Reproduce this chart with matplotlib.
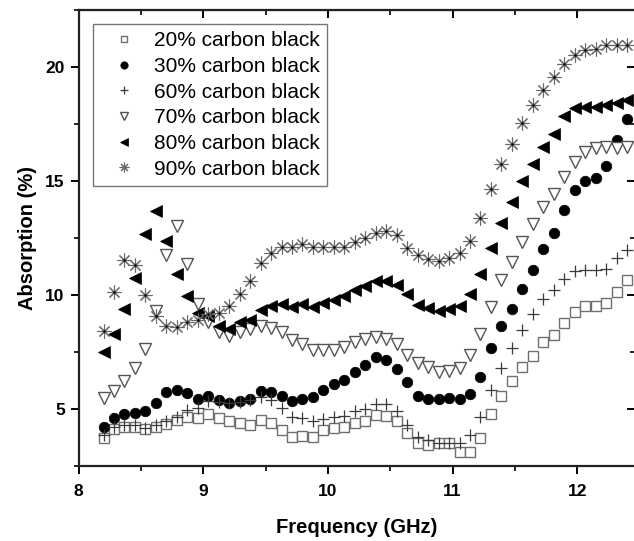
import matplotlib
matplotlib.use("Agg")
import matplotlib.pyplot as plt
from matplotlib.ticker import MultipleLocator

plt.rcParams['font.family'] = ['Liberation Sans', 'DejaVu Sans']

freq = [8.200, 8.284, 8.368, 8.452, 8.536, 8.620, 8.704, 8.788, 8.872, 8.956,
        9.040, 9.124, 9.208, 9.292, 9.376, 9.460, 9.544, 9.628, 9.712, 9.796,
        9.880, 9.964, 10.048, 10.132, 10.216, 10.300, 10.384, 10.468, 10.552, 10.636,
        10.720, 10.804, 10.888, 10.972, 11.056, 11.140, 11.224, 11.308, 11.392, 11.476,
        11.560, 11.644, 11.728, 11.812, 11.896, 11.980, 12.064, 12.148, 12.232, 12.316,
        12.400]

cb20 = [3.73, 4.12, 4.22, 4.22, 4.12, 4.22, 4.34, 4.53, 4.63, 4.58,
        4.78, 4.60, 4.45, 4.37, 4.31, 4.51, 4.37, 4.08, 3.75, 3.79,
        3.78, 4.05, 4.16, 4.19, 4.37, 4.48, 4.73, 4.70, 4.45, 3.95,
        3.48, 3.43, 3.50, 3.50, 3.12, 3.10, 3.73, 4.78, 5.55, 6.20,
        6.82, 7.33, 7.95, 8.25, 8.76, 9.25, 9.49, 9.52, 9.66, 10.14,
        10.65]

cb30 = [4.22, 4.60, 4.75, 4.80, 4.89, 5.24, 5.72, 5.83, 5.68, 5.43,
        5.58, 5.39, 5.24, 5.33, 5.43, 5.80, 5.75, 5.58, 5.36, 5.43,
        5.50, 5.83, 6.09, 6.26, 6.63, 6.93, 7.25, 7.13, 6.75, 6.16,
        5.58, 5.43, 5.45, 5.48, 5.45, 5.65, 6.41, 7.67, 8.61, 9.36,
        10.25, 11.08, 12.00, 12.70, 13.73, 14.58, 14.99, 15.13, 15.64, 16.77,
        17.71]

cb60 = [3.83, 4.19, 4.31, 4.27, 4.16, 4.27, 4.48, 4.63, 4.95, 5.04,
        5.36, 5.30, 5.25, 5.30, 5.40, 5.50, 5.39, 5.04, 4.66, 4.60,
        4.48, 4.55, 4.63, 4.70, 4.89, 4.99, 5.21, 5.21, 4.89, 4.27,
        3.75, 3.61, 3.52, 3.48, 3.50, 3.83, 4.63, 5.83, 6.79, 7.66,
        8.47, 9.15, 9.80, 10.22, 10.68, 11.05, 11.10, 11.08, 11.15, 11.60,
        11.95]

cb70 = [5.48, 5.80, 6.20, 6.79, 7.62, 9.30, 11.76, 13.02, 11.34, 9.59,
        8.80, 8.35, 8.20, 8.35, 8.50, 8.62, 8.55, 8.38, 8.02, 7.85,
        7.60, 7.57, 7.58, 7.70, 7.95, 8.07, 8.17, 8.07, 7.85, 7.37,
        7.00, 6.82, 6.60, 6.64, 6.79, 7.37, 8.28, 9.45, 10.65, 11.45,
        12.30, 13.12, 13.87, 14.43, 15.16, 15.82, 16.27, 16.44, 16.46, 16.44,
        16.46]

cb80 = [7.47, 8.30, 9.37, 10.75, 12.68, 13.67, 12.36, 10.90, 9.95, 9.22,
        9.08, 8.64, 8.50, 8.79, 8.89, 9.35, 9.50, 9.60, 9.46, 9.60,
        9.45, 9.65, 9.77, 9.95, 10.20, 10.40, 10.62, 10.60, 10.43, 10.02,
        9.55, 9.43, 9.28, 9.37, 9.52, 10.04, 10.90, 12.07, 13.16, 14.08,
        14.99, 15.74, 16.49, 17.07, 17.83, 18.20, 18.23, 18.23, 18.31, 18.41,
        18.52]

cb90 = [8.42, 10.10, 11.52, 11.31, 10.00, 9.08, 8.64, 8.60, 8.79, 8.89,
        9.15, 9.22, 9.52, 10.05, 10.60, 11.41, 11.82, 12.11, 12.08, 12.22,
        12.10, 12.10, 12.10, 12.10, 12.32, 12.48, 12.72, 12.80, 12.62, 12.07,
        11.74, 11.56, 11.46, 11.60, 11.85, 12.36, 13.35, 14.62, 15.72, 16.62,
        17.54, 18.31, 19.00, 19.55, 20.14, 20.50, 20.75, 20.77, 20.97, 20.97,
        20.97]

labels = ['20% carbon black', '30% carbon black', '60% carbon black',
          '70% carbon black', '80% carbon black', '90% carbon black']

fig = plt.figure(figsize=(6.34, 5.41), dpi=100)
ax = fig.add_axes([0.124, 0.139, 0.878, 0.843])

ax.plot(freq, cb20, ls='none', marker='s', ms=6.8, mfc='white', mec='#707070', mew=1.0, label=labels[0])
ax.plot(freq, cb30, ls='none', marker='o', ms=7.6, mfc='black', mec='black', mew=0.5, label=labels[1])
ax.plot(freq, cb60, ls='none', marker='+', ms=8.5, mec='#3a3a3a', mew=0.9, label=labels[2])
ax.plot(freq, cb70, ls='none', marker='v', ms=8.5, mfc='white', mec='#555555', mew=1.0, label=labels[3])
ax.plot(freq, cb80, ls='none', marker='<', ms=8.5, mfc='black', mec='black', mew=0.5, label=labels[4])
ax.plot(freq, cb90, ls='none', marker=(8, 2, 0), ms=10, mec='#6a6a6a', mew=0.8, label=labels[5])
ax.plot(freq, cb90, ls='none', marker='o', ms=1.8, mfc='black', mec='black', mew=0)

ax.set_xlim(8, 12.466)
ax.set_ylim(2.5, 22.5)
ax.xaxis.set_major_locator(MultipleLocator(1))
ax.xaxis.set_minor_locator(MultipleLocator(0.5))
ax.yaxis.set_major_locator(MultipleLocator(5))
ax.yaxis.set_minor_locator(MultipleLocator(2.5))

for s in ax.spines.values():
    s.set_linewidth(1.6)
    s.set_color('#222222')

ax.tick_params(which='major', direction='out', length=6, width=1.4, labelsize=12.5, pad=4)
ax.tick_params(which='minor', direction='out', length=3.5, width=1.2)
ax.tick_params(axis='x', which='major', pad=7)
for lab in ax.get_xticklabels() + ax.get_yticklabels():
    lab.set_fontweight('bold')

sec = ax.secondary_xaxis('top')
sec.xaxis.set_major_locator(MultipleLocator(1))
sec.xaxis.set_minor_locator(MultipleLocator(0.5))
sec.tick_params(which='major', direction='in', length=6, width=1.4, labeltop=False)
sec.tick_params(which='minor', direction='in', length=3.5, width=1.2)
sec2 = ax.secondary_yaxis('right')
sec2.yaxis.set_major_locator(MultipleLocator(5))
sec2.yaxis.set_minor_locator(MultipleLocator(2.5))
sec2.tick_params(which='major', direction='in', length=6, width=1.4, labelright=False)
sec2.tick_params(which='minor', direction='in', length=3.5, width=1.2)

ax.set_xlabel('Frequency (GHz)', fontsize=14.5, fontweight='bold', labelpad=14)
ax.set_ylabel('Absorption (%)', fontsize=14.5, fontweight='bold', labelpad=6)

leg = ax.legend(loc='upper left', bbox_to_anchor=(0.026, 0.969), borderaxespad=0,
                fontsize=15, markerscale=0.7, frameon=True, fancybox=False,
                handlelength=2.3, handletextpad=0.25, labelspacing=0.32, borderpad=0.35)
leg.get_frame().set_edgecolor('#555555')
leg.get_frame().set_linewidth(1.0)

fig.savefig('out.png', dpi=100)
